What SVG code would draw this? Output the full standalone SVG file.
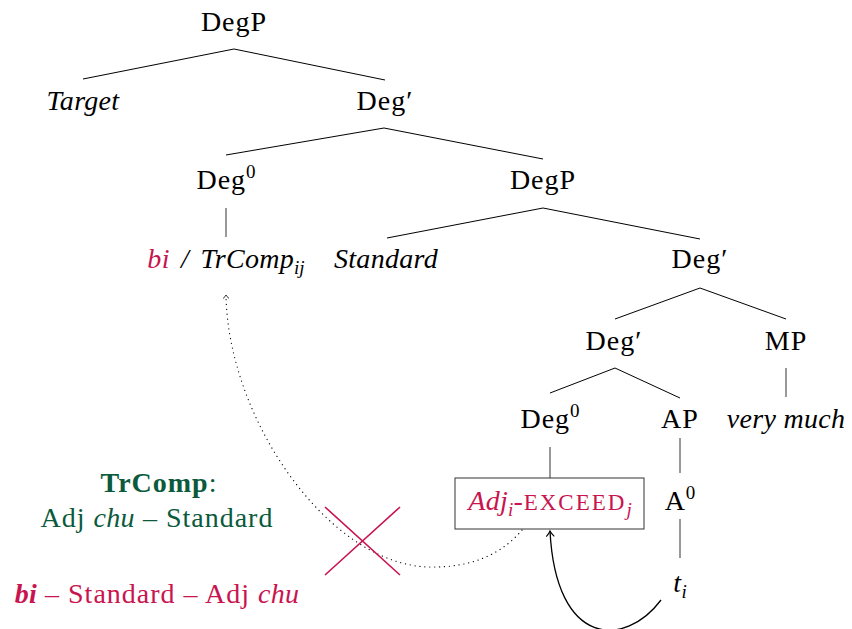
<svg xmlns="http://www.w3.org/2000/svg" width="852" height="629" viewBox="0 0 852 629">
<style>
text{font-family:"Liberation Serif","Times New Roman",serif;font-size:28px;fill:#000;text-anchor:middle;letter-spacing:1px}
.it{font-style:italic;letter-spacing:0.3px}
.sup{font-size:19px;letter-spacing:0}
.red{fill:#c8144f}
.green{fill:#0b5a3c}
.edge{stroke:#000;stroke-width:1;fill:none}
.vline{stroke:#333;stroke-width:1;fill:none}
</style>
<defs>
<marker id="arr" viewBox="-7 -5 9 10" markerWidth="9" markerHeight="10" refX="0" refY="0" orient="auto" markerUnits="userSpaceOnUse">
<path d="M-5.5,-4 Q-2,-0.8 0,0 Q-2,0.8 -5.5,4" fill="none" stroke="#000" stroke-width="1.1" stroke-dasharray="none"/>
</marker>
<marker id="arrs" viewBox="-5 -4 6 8" markerWidth="6" markerHeight="8" refX="0" refY="0" orient="auto" markerUnits="userSpaceOnUse">
<path d="M-3.5,-3 Q-1.5,-0.6 0,0 Q-1.5,0.6 -3.5,3" fill="none" stroke="#000" stroke-width="0.8" stroke-dasharray="none"/>
</marker>
</defs>
<rect width="852" height="629" fill="#fff"/>

<g id="connectors">
<path class="edge" d="M234,49 L83,79 M234,49 L385,80"/>
<path class="edge" d="M384,128 L226,155 M384,128 L543,159"/>
<path class="vline" d="M226,208 L226,237"/>
<path class="edge" d="M543,208 L387,238 M543,208 L700,239"/>
<path class="edge" d="M700,288 L615,319 M700,288 L786,319"/>
<path class="vline" d="M786,368 L786,397"/>
<path class="edge" d="M615,368 L550,393 M615,368 L680,398"/>
<path class="vline" d="M550,447 L550,478"/>
<path class="vline" d="M680,438 L680,473"/>
<path class="vline" d="M680,519 L680,558"/>
<path d="M661,600 C 625,648 556,648 550,531" fill="none" stroke="#000" stroke-width="1.3" marker-end="url(#arr)"/>
<path d="M522,530 Q 490,568 430,567 C 330,566 228,420 226,295" fill="none" stroke="#000" stroke-width="1.2" stroke-dasharray="0.1 4.8" stroke-linecap="round" marker-end="url(#arrs)"/>
</g>

<g id="n-degp-top"><text x="234" y="31">DegP</text></g>
<g id="n-target"><text class="it" x="83" y="110">Target</text></g>
<g id="n-degbar-1"><text x="385" y="110">Deg′</text></g>
<g id="n-deg0-1"><text x="226" y="189">Deg<tspan class="sup" dy="-11">0</tspan></text></g>
<g id="n-degp-2"><text x="543" y="189">DegP</text></g>
<g id="n-bi-trcomp"><text class="it" x="226" y="268" word-spacing="4"><tspan class="red">bi</tspan> / TrComp<tspan class="sup" dy="6">ij</tspan></text></g>
<g id="n-standard"><text class="it" x="386" y="268">Standard</text></g>
<g id="n-degbar-2"><text x="700" y="268">Deg′</text></g>
<g id="n-degbar-3"><text x="614" y="350">Deg′</text></g>
<g id="n-mp"><text x="786" y="350">MP</text></g>
<g id="n-very-much"><text class="it" x="786" y="428">very much</text></g>
<g id="n-deg0-2"><text x="550" y="428">Deg<tspan class="sup" dy="-11">0</tspan></text></g>
<g id="n-ap"><text x="680" y="428">AP</text></g>
<g id="n-exceed">
<rect x="455" y="478" width="189" height="51" fill="#fff" stroke="#333" stroke-width="1"/>
<text class="red" x="550" y="510"><tspan class="it">Adj</tspan><tspan class="it sup" dy="6">i</tspan><tspan dy="-6">-</tspan><tspan font-size="23" letter-spacing="2">EXCEED</tspan><tspan class="it sup" dy="6">j</tspan></text>
</g>
<g id="n-a0"><text x="680" y="510">A<tspan class="sup" dy="-11">0</tspan></text></g>
<g id="n-ti"><text class="it" x="680" y="592">t<tspan class="sup" dy="6">i</tspan></text></g>

<g id="cross"><path d="M325,507 L400,575 M400,507 L325,575" stroke="#c8144f" stroke-width="1.6" fill="none"/></g>

<g id="trcomp-note">
<text class="green" x="159" y="492"><tspan font-weight="bold">TrComp</tspan>:</text>
<text class="green" x="157" y="527">Adj <tspan class="it">chu</tspan> – Standard</text>
</g>
<g id="bi-note">
<text class="red" x="157" y="603"><tspan class="it" font-weight="bold">bi</tspan> – Standard – Adj <tspan class="it">chu</tspan></text>
</g>
</svg>
